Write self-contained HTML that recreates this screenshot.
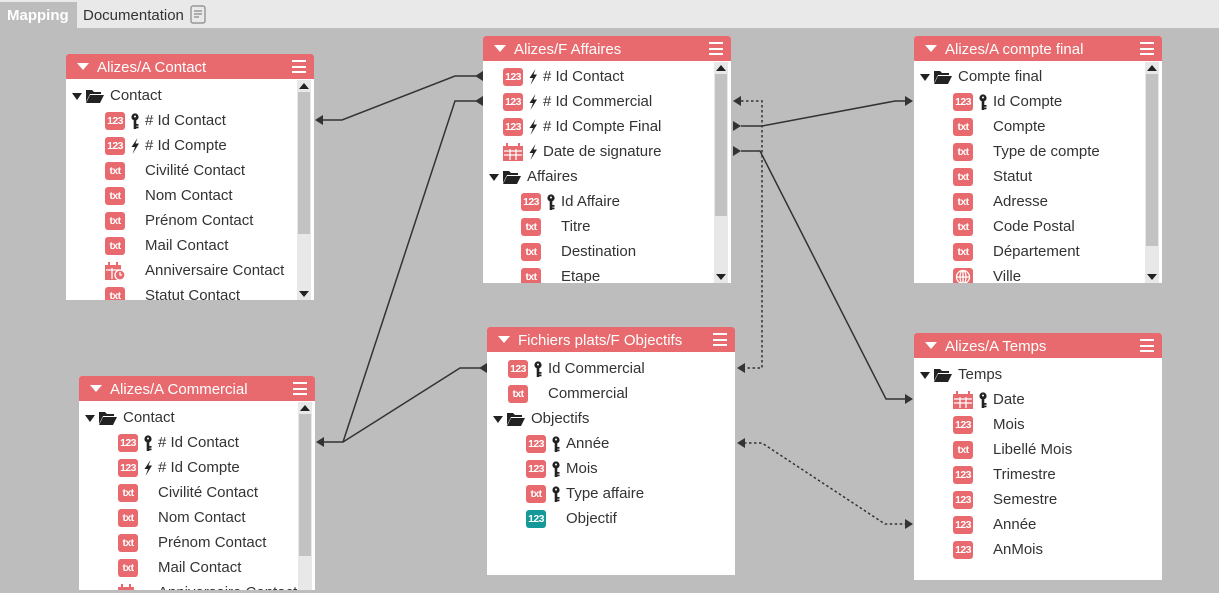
<!DOCTYPE html>
<html><head><meta charset="utf-8"><style>
*{margin:0;padding:0;box-sizing:border-box}
body{width:1219px;height:593px;background:#bdbdbd;position:relative;overflow:hidden;font-family:"Liberation Sans",sans-serif}
.top{position:absolute;left:0;top:0;width:1219px;height:28px;background:#e9e9e9}
.tab1{position:absolute;left:0;top:2px;width:77px;height:26px;background:#bdbdbd;color:#fff;font-weight:bold;font-size:15px;line-height:27px;padding-left:7px}
.tab2{position:absolute;left:83px;top:2px;height:26px;color:#333;font-size:15px;line-height:27px}
.box{position:absolute;background:#fff;overflow:hidden;border-radius:3px 3px 0 0}
.hd{position:absolute;left:0;top:0;right:0;height:25px;background:#e86a6e;color:#fff;font-size:15px;line-height:27px;padding-left:31px}
.hd:before{content:"";position:absolute;left:11px;top:9px;border-left:6px solid transparent;border-right:6px solid transparent;border-top:7px solid #fff}
.hm{position:absolute;right:8px;top:6px;width:14px;height:13px;border-top:2px solid #fff;border-bottom:2px solid #fff}
.hm:after{content:"";position:absolute;left:0;top:3.5px;width:14px;height:2px;background:#fff}
.r{position:absolute;height:20px;line-height:20px;font-size:15px;color:#333;white-space:nowrap;display:flex;align-items:center;margin-top:1px}
.ta{width:0;height:0;border-left:5.5px solid transparent;border-right:5.5px solid transparent;border-top:7px solid #222;margin-right:4px}
.fo{width:18px;height:14px;margin-right:6px}
.bd{display:inline-block;width:20px;height:18px;border-radius:3px;background:#e86a6e;color:#fff;font-weight:bold;font-size:10.5px;line-height:18px;text-align:center;letter-spacing:-0.6px;overflow:hidden}
.tl{background:#13999a}
.k{display:inline-block;width:8px;height:16px;margin:0 6px}
.sb{position:absolute;width:14px;background:#e8e8e8}
.sb .th{position:absolute;left:1px;width:12px;background:#c2c2c2}
.up,.dn{position:absolute;left:2px;width:0;height:0;border-left:5px solid transparent;border-right:5px solid transparent}
.up{top:3px;border-bottom:6px solid #222}
.dn{bottom:3px;border-top:6px solid #222}
</style></head><body>
<div class="top"></div>
<div class="tab1">Mapping</div>
<div class="tab2">Documentation <svg width="16" height="19" viewBox="0 0 16 19" style="vertical-align:-4px;margin-left:2px"><rect x="1" y="1" width="14" height="17" rx="2" fill="none" stroke="#888" stroke-width="1.2"/><path d="M4 6h8M4 9h8M4 12h5" stroke="#888" stroke-width="1.2"/></svg></div>

<svg width="0" height="0" style="position:absolute"><defs>
<symbol id="fold" viewBox="0 0 18 14"><path d="M0 1h6l2 2h7v2H4L0 13z" fill="#222"/><path d="M4 6h14l-4 8H0z" fill="#222"/></symbol>
<symbol id="key" viewBox="0 0 8 16"><circle cx="4" cy="4" r="3.6" fill="#222"/><circle cx="4" cy="3.5" r="1" fill="#fff"/><path d="M2.7 7h2.6v9H2.7zM5 11h2.5v1.8H5zM5 13.5h2.5v1.8H5z" fill="#222"/></symbol>
<symbol id="bolt" viewBox="0 0 8 16"><path d="M6.5 0L0.5 9h3.5l-2.5 7 6.5-10.5H4.5z" fill="#222"/></symbol>
<symbol id="cal" viewBox="0 0 20 18"><rect x="0" y="3" width="20" height="15" fill="#e86a6e"/><rect x="3" y="0" width="2" height="5" fill="#e86a6e"/><rect x="15" y="0" width="2" height="5" fill="#e86a6e"/><path d="M1 8h18M1 12h18M7 6v11M13 6v11" stroke="#fff" stroke-width="1.3"/></symbol>
<symbol id="calc" viewBox="0 0 20 18"><rect x="0" y="3" width="16" height="15" fill="#e86a6e"/><rect x="3" y="0" width="2" height="5" fill="#e86a6e"/><rect x="11" y="0" width="2" height="5" fill="#e86a6e"/><path d="M1 8h14M7 6v11" stroke="#fff" stroke-width="1.3"/><circle cx="15" cy="13" r="5" fill="#e86a6e" stroke="#fff" stroke-width="1.3"/><path d="M15 10v3h2" stroke="#fff" stroke-width="1.2" fill="none"/></symbol>
<symbol id="glob" viewBox="0 0 20 18"><rect width="20" height="18" rx="3" fill="#e86a6e"/><circle cx="10" cy="9" r="6.5" fill="none" stroke="#fff" stroke-width="1.3"/><path d="M3.5 9h13M10 2.5v13" stroke="#fff" stroke-width="1.3"/><ellipse cx="10" cy="9" rx="3" ry="6.5" fill="none" stroke="#fff" stroke-width="1.2"/></symbol>
</defs></svg>

<svg width="1219" height="593" style="position:absolute;left:0;top:0">
<g fill="none" stroke="#333" stroke-width="1.5">
<path d="M322 120H342L455 76H476"/>
<path d="M323 442H343L455 101H476"/>
<path d="M343 442L460 368H480"/>
<path d="M741 126H762L895 101H906"/>
<path d="M741 151H760L886 399H906"/>
<path d="M741 101H762V368H744" stroke-dasharray="2.5 2.5"/>
<path d="M744 443H762L885 524H906" stroke-dasharray="2.5 2.5"/>
</g>
<g fill="#333">
<path d="M315 120l8-5v10z"/>
<path d="M316 442l8-5v10z"/>
<path d="M475 76l8-5v10z"/>
<path d="M475 101l8-5v10z"/>
<path d="M479 368l8-5v10z"/>
<path d="M733 101l8-5v10z"/>
<path d="M733 121l8 5-8 5z"/>
<path d="M733 146l8 5-8 5z"/>
<path d="M737 368l8-5v10z"/>
<path d="M737 443l8-5v10z"/>
<path d="M905 96l8 5-8 5z"/>
<path d="M905 394l8 5-8 5z"/>
<path d="M905 519l8 5-8 5z"/>
</g>
</svg>

<div class="box" style="left:66px;top:54px;width:248px;height:246px">
<div class="hd">Alizes/A Contact<div class="hm"></div></div>
<div class="r" style="top:31px;left:6px"><i class="ta"></i><svg class="fo"><use href="#fold"/></svg>Contact</div>
<div class="r" style="top:56px;left:39px"><b class="bd">123</b><svg class="k"><use href="#key"/></svg># Id Contact</div>
<div class="r" style="top:81px;left:39px"><b class="bd">123</b><svg class="k"><use href="#bolt"/></svg># Id Compte</div>
<div class="r" style="top:106px;left:39px"><b class="bd">txt</b><i class="k"></i>Civilité Contact</div>
<div class="r" style="top:131px;left:39px"><b class="bd">txt</b><i class="k"></i>Nom Contact</div>
<div class="r" style="top:156px;left:39px"><b class="bd">txt</b><i class="k"></i>Prénom Contact</div>
<div class="r" style="top:181px;left:39px"><b class="bd">txt</b><i class="k"></i>Mail Contact</div>
<div class="r" style="top:206px;left:39px"><svg width="20" height="18"><use href="#calc"/></svg><i class="k"></i>Anniversaire Contact</div>
<div class="r" style="top:231px;left:39px"><b class="bd">txt</b><i class="k"></i>Statut Contact</div>
<div class="sb" style="left:231px;top:26px;height:220px"><div class="up"></div><div class="th" style="top:12px;height:142px"></div><div class="dn"></div></div>
</div>

<div class="box" style="left:483px;top:36px;width:248px;height:247px">
<div class="hd">Alizes/F Affaires<div class="hm"></div></div>
<div class="r" style="top:30px;left:20px"><b class="bd">123</b><svg class="k"><use href="#bolt"/></svg># Id Contact</div>
<div class="r" style="top:55px;left:20px"><b class="bd">123</b><svg class="k"><use href="#bolt"/></svg># Id Commercial</div>
<div class="r" style="top:80px;left:20px"><b class="bd">123</b><svg class="k"><use href="#bolt"/></svg># Id Compte Final</div>
<div class="r" style="top:105px;left:20px"><svg width="20" height="18"><use href="#cal"/></svg><svg class="k"><use href="#bolt"/></svg>Date de signature</div>
<div class="r" style="top:130px;left:6px"><i class="ta"></i><svg class="fo"><use href="#fold"/></svg>Affaires</div>
<div class="r" style="top:155px;left:38px"><b class="bd">123</b><svg class="k"><use href="#key"/></svg>Id Affaire</div>
<div class="r" style="top:180px;left:38px"><b class="bd">txt</b><i class="k"></i>Titre</div>
<div class="r" style="top:205px;left:38px"><b class="bd">txt</b><i class="k"></i>Destination</div>
<div class="r" style="top:230px;left:38px"><b class="bd">txt</b><i class="k"></i>Etape</div>
<div class="sb" style="left:231px;top:26px;height:221px"><div class="up"></div><div class="th" style="top:12px;height:142px"></div><div class="dn"></div></div>
</div>

<div class="box" style="left:914px;top:36px;width:248px;height:247px">
<div class="hd">Alizes/A compte final<div class="hm"></div></div>
<div class="r" style="top:30px;left:6px"><i class="ta"></i><svg class="fo"><use href="#fold"/></svg>Compte final</div>
<div class="r" style="top:55px;left:39px"><b class="bd">123</b><svg class="k"><use href="#key"/></svg>Id Compte</div>
<div class="r" style="top:80px;left:39px"><b class="bd">txt</b><i class="k"></i>Compte</div>
<div class="r" style="top:105px;left:39px"><b class="bd">txt</b><i class="k"></i>Type de compte</div>
<div class="r" style="top:130px;left:39px"><b class="bd">txt</b><i class="k"></i>Statut</div>
<div class="r" style="top:155px;left:39px"><b class="bd">txt</b><i class="k"></i>Adresse</div>
<div class="r" style="top:180px;left:39px"><b class="bd">txt</b><i class="k"></i>Code Postal</div>
<div class="r" style="top:205px;left:39px"><b class="bd">txt</b><i class="k"></i>Département</div>
<div class="r" style="top:230px;left:39px"><svg width="20" height="18"><use href="#glob"/></svg><i class="k"></i>Ville</div>
<div class="sb" style="left:231px;top:26px;height:221px"><div class="up"></div><div class="th" style="top:12px;height:172px"></div><div class="dn"></div></div>
</div>

<div class="box" style="left:79px;top:376px;width:236px;height:214px">
<div class="hd">Alizes/A Commercial<div class="hm"></div></div>
<div class="r" style="top:31px;left:6px"><i class="ta"></i><svg class="fo"><use href="#fold"/></svg>Contact</div>
<div class="r" style="top:56px;left:39px"><b class="bd">123</b><svg class="k"><use href="#key"/></svg># Id Contact</div>
<div class="r" style="top:81px;left:39px"><b class="bd">123</b><svg class="k"><use href="#bolt"/></svg># Id Compte</div>
<div class="r" style="top:106px;left:39px"><b class="bd">txt</b><i class="k"></i>Civilité Contact</div>
<div class="r" style="top:131px;left:39px"><b class="bd">txt</b><i class="k"></i>Nom Contact</div>
<div class="r" style="top:156px;left:39px"><b class="bd">txt</b><i class="k"></i>Prénom Contact</div>
<div class="r" style="top:181px;left:39px"><b class="bd">txt</b><i class="k"></i>Mail Contact</div>
<div class="r" style="top:206px;left:39px"><svg width="20" height="18"><use href="#calc"/></svg><i class="k"></i>Anniversaire Contact</div>
<div class="sb" style="left:219px;top:26px;height:188px"><div class="up"></div><div class="th" style="top:12px;height:142px"></div></div>
</div>

<div class="box" style="left:487px;top:327px;width:248px;height:248px">
<div class="hd">Fichiers plats/F Objectifs<div class="hm"></div></div>
<div class="r" style="top:31px;left:21px"><b class="bd">123</b><svg class="k"><use href="#key"/></svg>Id Commercial</div>
<div class="r" style="top:56px;left:21px"><b class="bd">txt</b><i class="k"></i>Commercial</div>
<div class="r" style="top:81px;left:6px"><i class="ta"></i><svg class="fo"><use href="#fold"/></svg>Objectifs</div>
<div class="r" style="top:106px;left:39px"><b class="bd">123</b><svg class="k"><use href="#key"/></svg>Année</div>
<div class="r" style="top:131px;left:39px"><b class="bd">123</b><svg class="k"><use href="#key"/></svg>Mois</div>
<div class="r" style="top:156px;left:39px"><b class="bd">txt</b><svg class="k"><use href="#key"/></svg>Type affaire</div>
<div class="r" style="top:181px;left:39px"><b class="bd tl">123</b><i class="k"></i>Objectif</div>
</div>

<div class="box" style="left:914px;top:333px;width:248px;height:247px">
<div class="hd">Alizes/A Temps<div class="hm"></div></div>
<div class="r" style="top:31px;left:6px"><i class="ta"></i><svg class="fo"><use href="#fold"/></svg>Temps</div>
<div class="r" style="top:56px;left:39px"><svg width="20" height="18"><use href="#cal"/></svg><svg class="k"><use href="#key"/></svg>Date</div>
<div class="r" style="top:81px;left:39px"><b class="bd">123</b><i class="k"></i>Mois</div>
<div class="r" style="top:106px;left:39px"><b class="bd">txt</b><i class="k"></i>Libellé Mois</div>
<div class="r" style="top:131px;left:39px"><b class="bd">123</b><i class="k"></i>Trimestre</div>
<div class="r" style="top:156px;left:39px"><b class="bd">123</b><i class="k"></i>Semestre</div>
<div class="r" style="top:181px;left:39px"><b class="bd">123</b><i class="k"></i>Année</div>
<div class="r" style="top:206px;left:39px"><b class="bd">123</b><i class="k"></i>AnMois</div>
</div>
</body></html>
